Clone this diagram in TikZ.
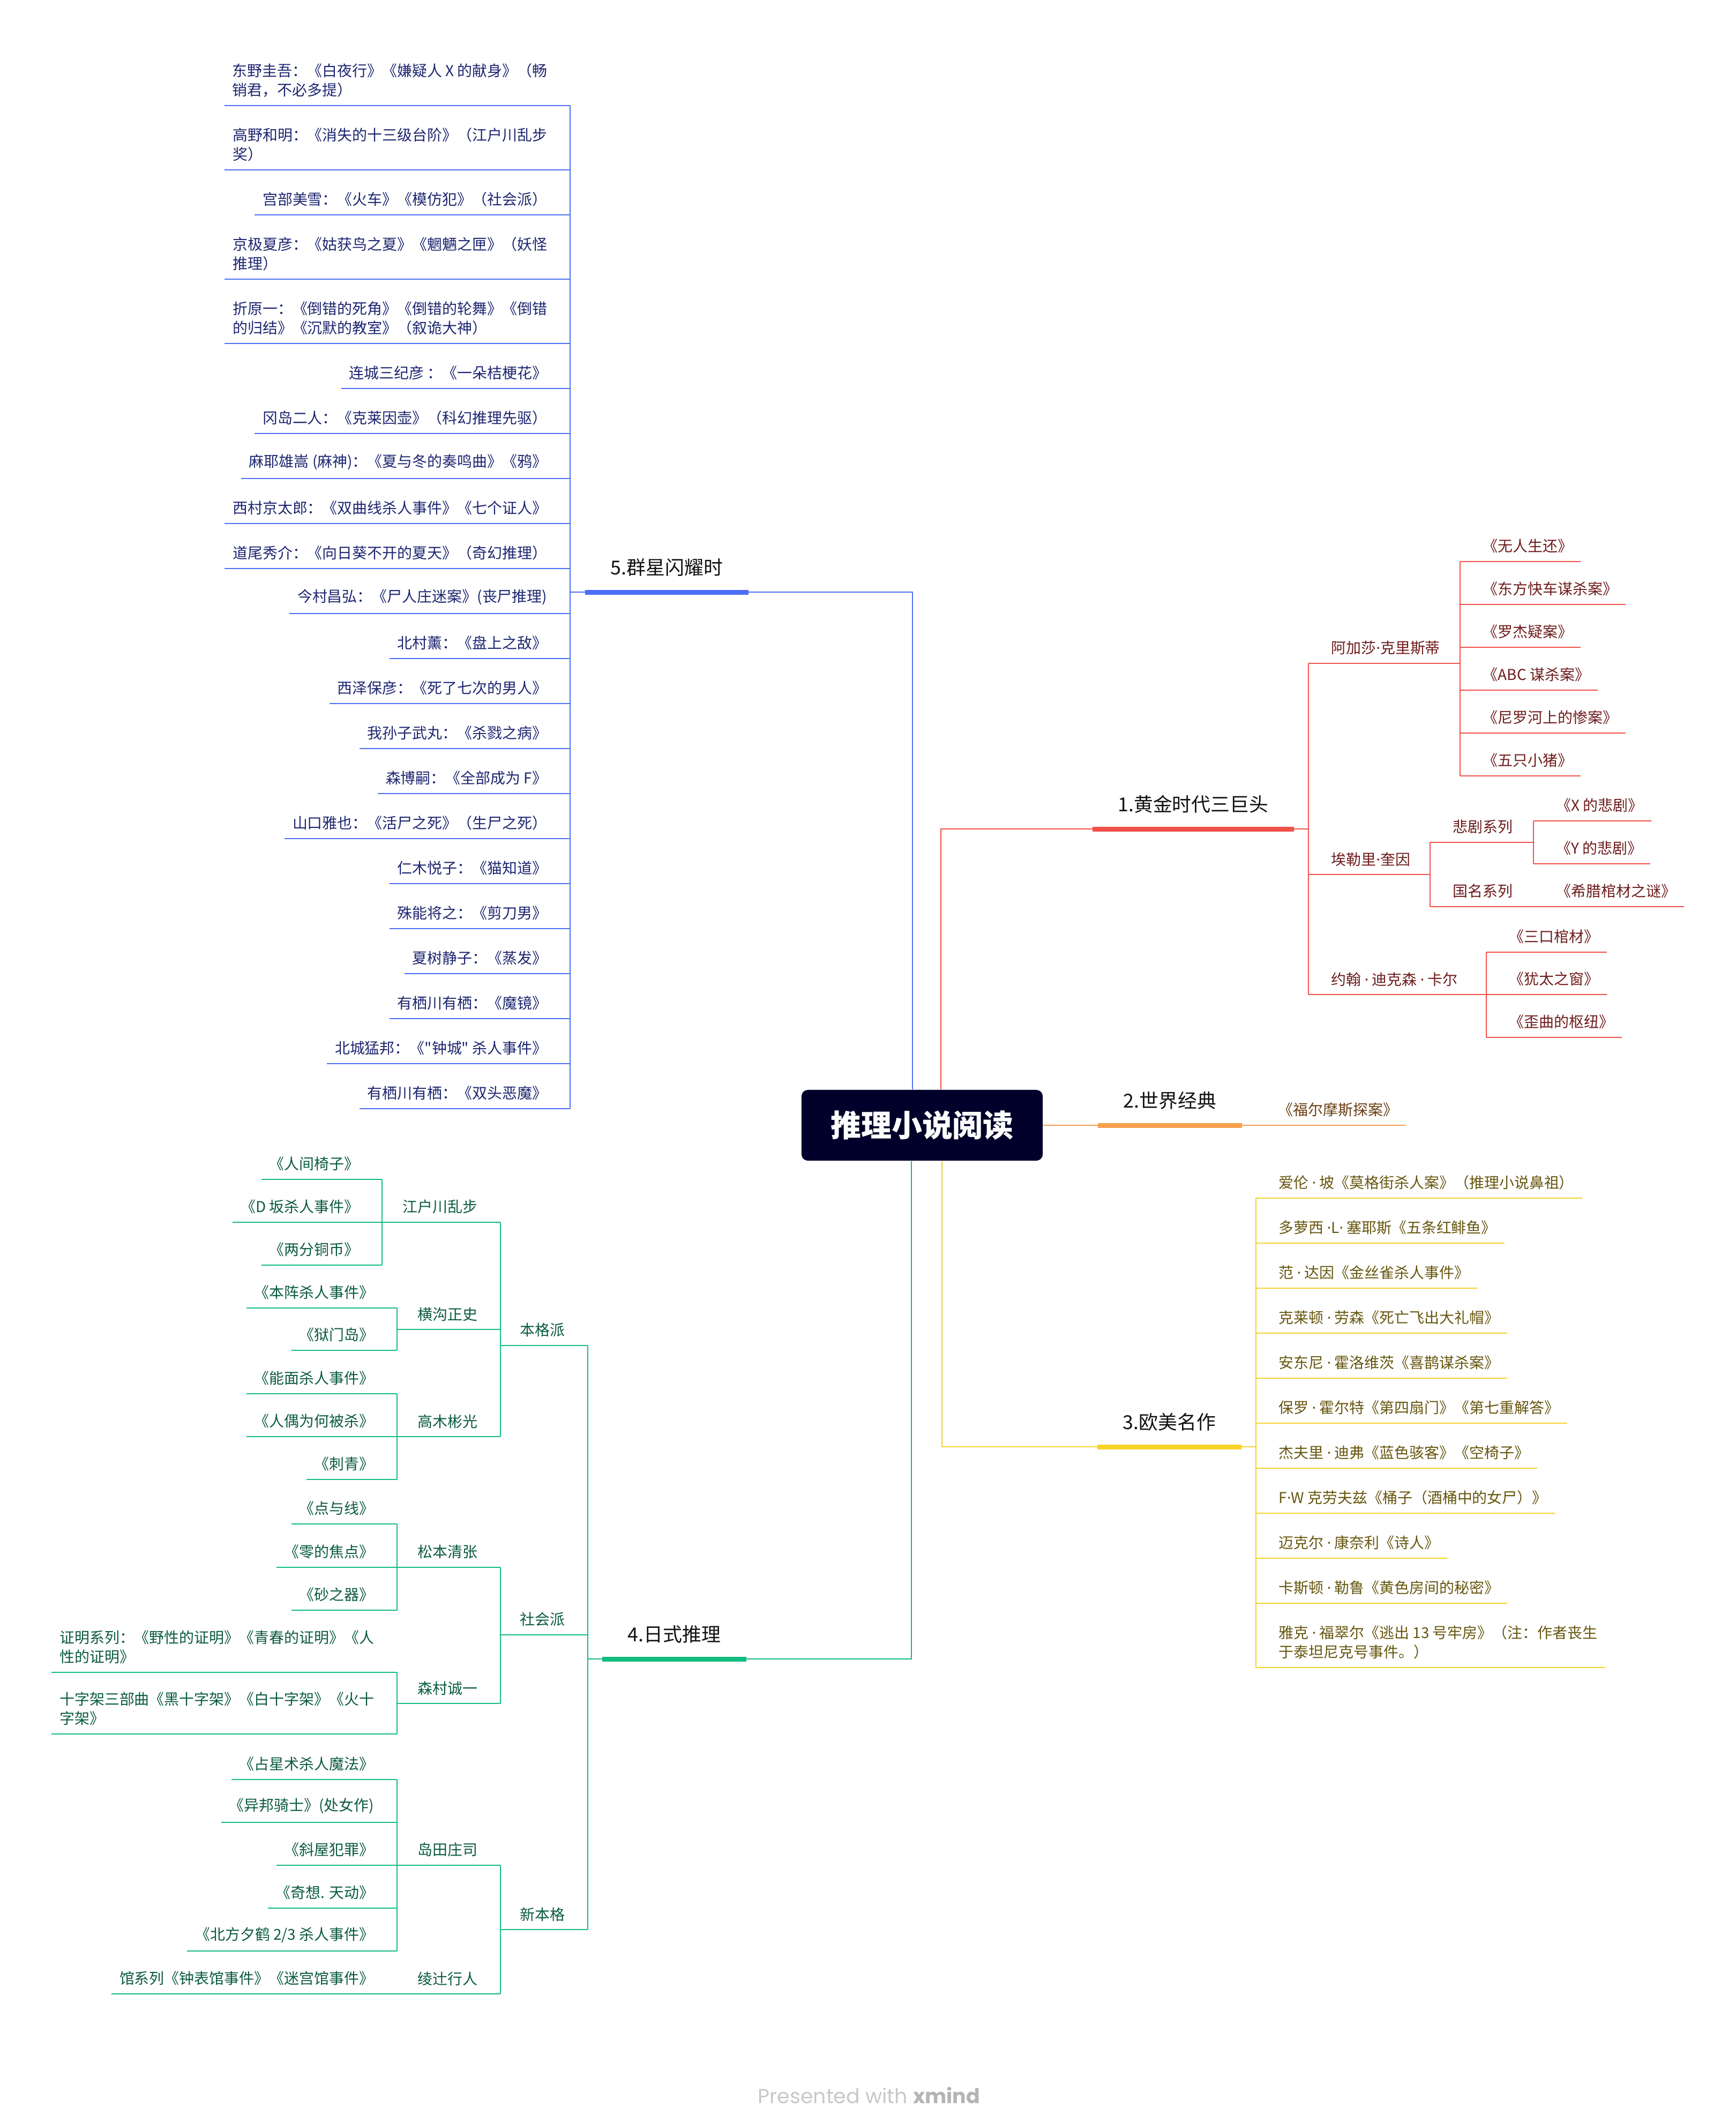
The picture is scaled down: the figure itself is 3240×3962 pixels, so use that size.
\documentclass[tikz,border=0pt]{standalone}
\usepackage{fontspec}
\usepackage{xcolor}
\newfontfamily\cjk{Noto Sans CJK SC}
\newfontfamily\latin{Noto Sans}
\newfontfamily\credit{Poppins}
\newcommand\mdot{{\latin ·}}
\definecolor{mind-root}{HTML}{00002A}
\definecolor{mind-ink}{HTML}{111111}
\definecolor{mind-blue}{HTML}{4C6EF5}
\definecolor{mind-blue-text}{HTML}{1D2670}
\definecolor{mind-red}{HTML}{F2514B}
\definecolor{mind-red-text}{HTML}{6E1C1C}
\definecolor{mind-orange}{HTML}{F5A04E}
\definecolor{mind-orange-text}{HTML}{6B3F12}
\definecolor{mind-yellow}{HTML}{F6D32B}
\definecolor{mind-yellow-text}{HTML}{66560F}
\definecolor{mind-green}{HTML}{12BD80}
\definecolor{mind-green-text}{HTML}{0B5B3D}
\definecolor{mind-credit}{HTML}{C8C8C8}
\definecolor{mind-credit-bold}{HTML}{B4B4B4}
\usepackage{tikz}
\usetikzlibrary{calc}

\tikzset{
    topic/.style={inner xsep=0.14cm, inner ysep=0.15cm, align=left,
        font=\cjk\fontsize{7.95}{10.24}\selectfont},
    branch/.style={inner xsep=0.47cm, inner ysep=0.29cm, text=mind-ink,
        font=\cjk\fontsize{10.2}{13}\selectfont},
    link/.style={line width=0.55pt},
    bar/.style={line width=2.56pt},
    blue-topic/.style={topic, text=mind-blue-text},
    red-topic/.style={topic, text=mind-red-text},
    orange-topic/.style={topic, text=mind-orange-text},
    yellow-topic/.style={topic, text=mind-yellow-text},
    green-topic/.style={topic, text=mind-green-text},
}

\begin{document}
\begin{tikzpicture}[x=0.01cm, y=-0.01cm]

    \useasboundingbox (0,0) rectangle (3240,3962);

    % Root
    \node[fill=mind-root, rounded corners=0.12cm, minimum width=4.5cm, minimum height=1.32cm,
        text=white, font=\cjk\bfseries\fontsize{16.2}{20}\selectfont] (root) at (1721,2100) {推理小说阅读};

    % 5. Stars
    \coordinate (s5) at (1064,1105);
    \node[branch, anchor=south west] (g5) at (1092,1105) {5.群星闪耀时};
    \node[blue-topic, anchor=south east] (b1) at (1036,197) {东野圭吾：《白夜行》《嫌疑人 X 的献身》（畅\\销君，不必多提）};
    \node[blue-topic, anchor=south east] (b2) at (1036,317) {高野和明：《消失的十三级台阶》（江户川乱步\\奖）};
    \node[blue-topic, anchor=south east] (b3) at (1036,401) {宫部美雪：《火车》《模仿犯》（社会派）};
    \node[blue-topic, anchor=south east] (b4) at (1036,521) {京极夏彦：《姑获鸟之夏》《魍魉之匣》（妖怪\\推理）};
    \node[blue-topic, anchor=south east] (b5) at (1036,641) {折原一：《倒错的死角》《倒错的轮舞》《倒错\\的归结》《沉默的教室》（叙诡大神）};
    \node[blue-topic, anchor=south east] (b6) at (1036,725) {连城三纪彦 ：《一朵桔梗花》};
    \node[blue-topic, anchor=south east] (b7) at (1036,809) {冈岛二人：《克莱因壶》（科幻推理先驱）};
    \node[blue-topic, anchor=south east] (b8) at (1036,893) {麻耶雄嵩 (麻神)：《夏与冬的奏鸣曲》《鸦》};
    \node[blue-topic, anchor=south east] (b9) at (1036,977) {西村京太郎：《双曲线杀人事件》《七个证人》};
    \node[blue-topic, anchor=south east] (b10) at (1036,1061) {道尾秀介：《向日葵不开的夏天》（奇幻推理）};
    \node[blue-topic, anchor=south east] (b11) at (1036,1145) {今村昌弘：《尸人庄迷案》(丧尸推理)};
    \node[blue-topic, anchor=south east] (b12) at (1036,1229) {北村薰：《盘上之敌》};
    \node[blue-topic, anchor=south east] (b13) at (1036,1313) {西泽保彦：《死了七次的男人》};
    \node[blue-topic, anchor=south east] (b14) at (1036,1397) {我孙子武丸：《杀戮之病》};
    \node[blue-topic, anchor=south east] (b15) at (1036,1481) {森博嗣：《全部成为 F》};
    \node[blue-topic, anchor=south east] (b16) at (1036,1565) {山口雅也：《活尸之死》（生尸之死）};
    \node[blue-topic, anchor=south east] (b17) at (1036,1649) {仁木悦子：《猫知道》};
    \node[blue-topic, anchor=south east] (b18) at (1036,1733) {殊能将之：《剪刀男》};
    \node[blue-topic, anchor=south east] (b19) at (1036,1817) {夏树静子：《蒸发》};
    \node[blue-topic, anchor=south east] (b20) at (1036,1901) {有栖川有栖：《魔镜》};
    \node[blue-topic, anchor=south east] (b21) at (1036,1985) {北城猛邦：《"钟城" 杀人事件》};
    \node[blue-topic, anchor=south east] (b22) at (1036,2069) {有栖川有栖：《双头恶魔》};
    \draw[bar, mind-blue] (g5.south west) -- (g5.south east);
    \draw[link, mind-blue] ($(root.north)+(-18,0)$) |- (g5.south east);
    \draw[link, mind-blue] (g5.south west) -- (s5);
    \draw[link, mind-blue] (s5 |- b1.south) -- (s5 |- b22.south);
    \foreach \i in {1,...,22}
        \draw[link, mind-blue] (b\i.south west) -- (b\i.south west -| s5);

    % 1. Golden age
    \coordinate (s1) at (2442,1547);
    \node[branch, anchor=south east] (g1) at (2415,1547) {1.黄金时代三巨头};
    \node[red-topic, anchor=south west] (aga) at (2470,1238) {阿加莎\mdot 克里斯蒂};
    \node[red-topic, anchor=south west] (ell) at (2470,1632) {埃勒里\mdot 奎因};
    \node[red-topic, anchor=south west] (car) at (2470,1856) {约翰 \mdot{} 迪克森 \mdot{} 卡尔};
    \coordinate (s-aga) at (2725,1238);
    \coordinate (s-ell) at (2669,1632);
    \coordinate (s-car) at (2774,1856);
    \node[red-topic, anchor=south west] (aga1) at (2753,1048) {《无人生还》};
    \node[red-topic, anchor=south west] (aga2) at (2753,1128) {《东方快车谋杀案》};
    \node[red-topic, anchor=south west] (aga3) at (2753,1208) {《罗杰疑案》};
    \node[red-topic, anchor=south west] (aga4) at (2753,1288) {《ABC 谋杀案》};
    \node[red-topic, anchor=south west] (aga5) at (2753,1368) {《尼罗河上的惨案》};
    \node[red-topic, anchor=south west] (aga6) at (2753,1448) {《五只小猪》};
    \node[red-topic, anchor=south west] (ell1) at (2697,1572) {悲剧系列};
    \node[red-topic, anchor=south west] (ell2) at (2697,1692) {国名系列};
    \coordinate (s-ell1) at (2862,1572);
    \coordinate (s-ell2) at (2862,1692);
    \node[red-topic, anchor=south west] (tra1) at (2890,1532) {《X 的悲剧》};
    \node[red-topic, anchor=south west] (tra2) at (2890,1612) {《Y 的悲剧》};
    \node[red-topic, anchor=south west] (nat1) at (2890,1692) {《希腊棺材之谜》};
    \node[red-topic, anchor=south west] (car1) at (2802,1777) {《三口棺材》};
    \node[red-topic, anchor=south west] (car2) at (2802,1856) {《犹太之窗》};
    \node[red-topic, anchor=south west] (car3) at (2802,1936) {《歪曲的枢纽》};
    \draw[bar, mind-red] (g1.south west) -- (g1.south east);
    \draw[link, mind-red] ($(root.north)+(35,0)$) |- (g1.south west);
    \draw[link, mind-red] (g1.south east) -- (s1);
    \draw[link, mind-red] (s1 |- aga.south) -- (s1 |- car.south);
    \foreach \a in {aga,ell,car}
        \draw[link, mind-red] (s1 |- \a.south) -- (s-\a);
    \foreach \a/\n in {aga/6,ell/2,car/3}
        \draw[link, mind-red] (s-\a |- \a1.south) -- (s-\a |- \a\n.south);
    \foreach \c in {aga1,aga2,aga3,aga4,aga5,aga6}
        \draw[link, mind-red] (s-aga |- \c.south) -- (\c.south east);
    \foreach \c in {car1,car2,car3}
        \draw[link, mind-red] (s-car |- \c.south) -- (\c.south east);
    \draw[link, mind-red] (s-ell |- ell1.south) -- (s-ell1);
    \draw[link, mind-red] (s-ell |- ell2.south) -- (s-ell2);
    \draw[link, mind-red] (s-ell1 |- tra1.south) -- (s-ell1 |- tra2.south);
    \foreach \c in {tra1,tra2}
        \draw[link, mind-red] (s-ell1 |- \c.south) -- (\c.south east);
    \draw[link, mind-red] (s-ell2) -- (nat1.south east);

    % 2. World classics
    \node[branch, anchor=south west] (g2) at (2049,2100) {2.世界经典};
    \node[orange-topic, anchor=south west] (hol) at (2371,2100) {《福尔摩斯探案》};
    \draw[bar, mind-orange] (g2.south west) -- (g2.south east);
    \draw[link, mind-orange] (root.east) -- (g2.south west);
    \draw[link, mind-orange] (g2.south east) -- (hol.south east);

    % 3. Western works
    \coordinate (s3) at (2344,2700);
    \node[branch, anchor=south east] (g3) at (2317,2700) {3.欧美名作};
    \node[yellow-topic, anchor=south west] (w1) at (2372,2236) {爱伦 \mdot{} 坡《莫格街杀人案》（推理小说鼻祖）};
    \node[yellow-topic, anchor=south west] (w2) at (2372,2320) {多萝西 \mdot L\mdot{} 塞耶斯《五条红鲱鱼》};
    \node[yellow-topic, anchor=south west] (w3) at (2372,2404) {范 \mdot{} 达因《金丝雀杀人事件》};
    \node[yellow-topic, anchor=south west] (w4) at (2372,2488) {克莱顿 \mdot{} 劳森《死亡飞出大礼帽》};
    \node[yellow-topic, anchor=south west] (w5) at (2372,2572) {安东尼 \mdot{} 霍洛维茨《喜鹊谋杀案》};
    \node[yellow-topic, anchor=south west] (w6) at (2372,2656) {保罗 \mdot{} 霍尔特《第四扇门》《第七重解答》};
    \node[yellow-topic, anchor=south west] (w7) at (2372,2740) {杰夫里 \mdot{} 迪弗《蓝色骇客》《空椅子》};
    \node[yellow-topic, anchor=south west] (w8) at (2372,2824) {F\mdot W 克劳夫兹《桶子（酒桶中的女尸）》};
    \node[yellow-topic, anchor=south west] (w9) at (2372,2908) {迈克尔 \mdot{} 康奈利《诗人》};
    \node[yellow-topic, anchor=south west] (w10) at (2372,2992) {卡斯顿 \mdot{} 勒鲁《黄色房间的秘密》};
    \node[yellow-topic, anchor=south west] (w11) at (2372,3112) {雅克 \mdot{} 福翠尔《逃出 13 号牢房》（注：作者丧生\\于泰坦尼克号事件。）};
    \draw[bar, mind-yellow] (g3.south west) -- (g3.south east);
    \draw[link, mind-yellow] ($(root.south)+(37,0)$) |- (g3.south west);
    \draw[link, mind-yellow] (g3.south east) -- (s3);
    \draw[link, mind-yellow] (s3 |- w1.south) -- (s3 |- w11.south);
    \foreach \i in {1,...,11}
        \draw[link, mind-yellow] (w\i.south east) -- (w\i.south east -| s3);

    % 4. Japanese
    \coordinate (s4) at (1097,3096);
    \node[branch, anchor=south west] (g4) at (1124,3096) {4.日式推理};
    \node[green-topic, anchor=south east] (ben) at (1069,2511) {本格派};
    \node[green-topic, anchor=south east] (she) at (1069,3051) {社会派};
    \node[green-topic, anchor=south east] (xin) at (1069,3601) {新本格};
    \coordinate (s-ben) at (934,2511);
    \coordinate (s-she) at (934,3051);
    \coordinate (s-xin) at (934,3601);
    \node[green-topic, anchor=south east] (edo) at (906,2281) {江户川乱步};
    \node[green-topic, anchor=south east] (hen) at (906,2481) {横沟正史};
    \node[green-topic, anchor=south east] (tak) at (906,2681) {高木彬光};
    \node[green-topic, anchor=south east] (mat) at (906,2925) {松本清张};
    \node[green-topic, anchor=south east] (mor) at (906,3179) {森村诚一};
    \node[green-topic, anchor=south east] (shi) at (906,3481) {岛田庄司};
    \node[green-topic, anchor=south east] (aya) at (906,3721) {绫辻行人};
    \coordinate (s-edo) at (713,2281);
    \coordinate (s-hen) at (741,2481);
    \coordinate (s-tak) at (741,2681);
    \coordinate (s-mat) at (741,2925);
    \coordinate (s-mor) at (741,3179);
    \coordinate (s-shi) at (741,3481);
    \coordinate (s-aya) at (741,3721);
    \node[green-topic, anchor=south east] (edo1) at (685,2201) {《人间椅子》};
    \node[green-topic, anchor=south east] (edo2) at (685,2281) {《D 坂杀人事件》};
    \node[green-topic, anchor=south east] (edo3) at (685,2361) {《两分铜币》};
    \node[green-topic, anchor=south east] (hen1) at (713,2441) {《本阵杀人事件》};
    \node[green-topic, anchor=south east] (hen2) at (713,2520) {《狱门岛》};
    \node[green-topic, anchor=south east] (tak1) at (713,2601) {《能面杀人事件》};
    \node[green-topic, anchor=south east] (tak2) at (713,2681) {《人偶为何被杀》};
    \node[green-topic, anchor=south east] (tak3) at (713,2761) {《刺青》};
    \node[green-topic, anchor=south east] (mat1) at (713,2844) {《点与线》};
    \node[green-topic, anchor=south east] (mat2) at (713,2925) {《零的焦点》};
    \node[green-topic, anchor=south east] (mat3) at (713,3005) {《砂之器》};
    \node[green-topic, anchor=south east] (mor1) at (713,3121) {证明系列：《野性的证明》《青春的证明》《人\\性的证明》};
    \node[green-topic, anchor=south east] (mor2) at (713,3236) {十字架三部曲《黑十字架》《白十字架》《火十\\字架》};
    \node[green-topic, anchor=south east] (shi1) at (713,3321) {《占星术杀人魔法》};
    \node[green-topic, anchor=south east] (shi2) at (713,3401) {《异邦骑士》(处女作)};
    \node[green-topic, anchor=south east] (shi3) at (713,3481) {《斜屋犯罪》};
    \node[green-topic, anchor=south east] (shi4) at (713,3561) {《奇想. 天动》};
    \node[green-topic, anchor=south east] (shi5) at (713,3641) {《北方夕鹤 2/3 杀人事件》};
    \node[green-topic, anchor=south east] (aya1) at (713,3721) {馆系列《钟表馆事件》《迷宫馆事件》};
    \draw[bar, mind-green] (g4.south west) -- (g4.south east);
    \draw[link, mind-green] ($(root.south)+(-20,0)$) |- (g4.south east);
    \draw[link, mind-green] (g4.south west) -- (s4);
    \draw[link, mind-green] (s4 |- ben.south) -- (s4 |- xin.south);
    \foreach \g in {ben,she,xin}
        \draw[link, mind-green] (s-\g) -- (s4 |- \g.south);
    \foreach \g/\a/\z in {ben/edo/tak,she/mat/mor,xin/shi/aya}
        \draw[link, mind-green] (s-\g |- \a.south) -- (s-\g |- \z.south);
    \foreach \g/\a in {ben/edo,ben/hen,ben/tak,she/mat,she/mor,xin/shi,xin/aya}
        \draw[link, mind-green] (s-\a) -- (s-\g |- \a.south);
    \foreach \a/\n in {edo/3,hen/2,tak/3,mat/3,mor/2,shi/5,aya/1} {
        \draw[link, mind-green] (s-\a |- \a1.south) -- (s-\a |- \a\n.south);
        \foreach \i in {1,...,\n}
            \draw[link, mind-green] (\a\i.south west) -- (\a\i.south west -| s-\a);
    }

    % Credit
    \node[font=\credit\fontsize{10.8}{13}\selectfont, text=mind-credit] (credit) at (1622,3910)
        {Presented with {\color{mind-credit-bold}\bfseries xmind}};

\end{tikzpicture}
\end{document}
